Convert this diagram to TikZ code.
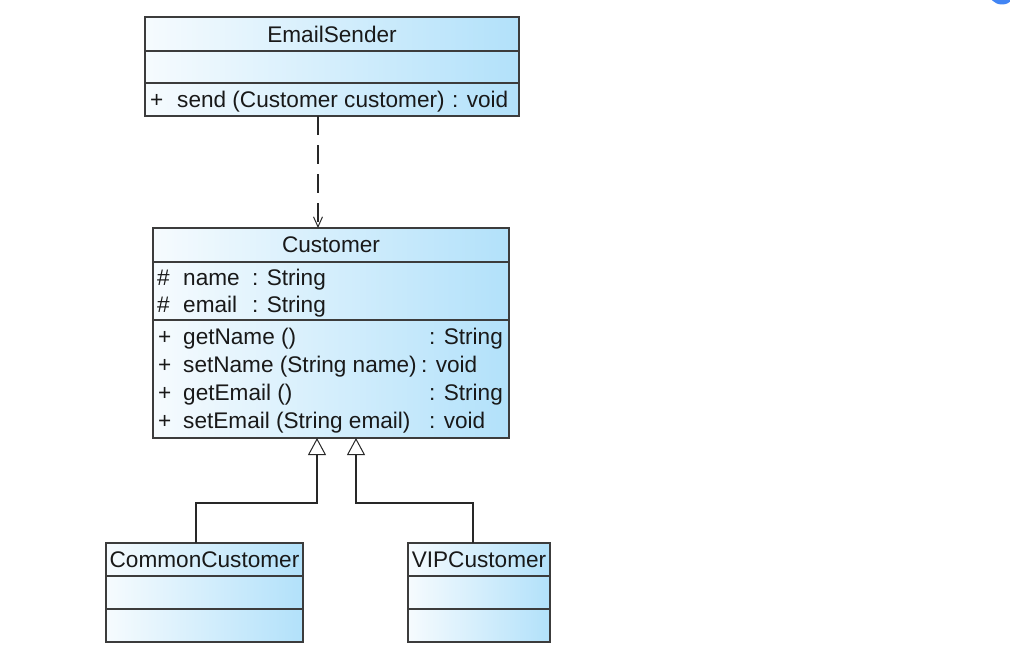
\documentclass[tikz,border=0pt]{standalone}
\usepackage{fontspec}
\setmainfont{Liberation Sans}
\usetikzlibrary{arrows.meta}
\definecolor{cblue}{RGB}{178,225,250}
\definecolor{cwhite}{RGB}{246,251,254}
\definecolor{bord}{RGB}{60,60,60}
\definecolor{dotblue}{RGB}{66,133,244}
\definecolor{lnk}{RGB}{40,40,40}
\begin{document}
\begin{tikzpicture}[x=1pt,y=-1pt,
  comp/.style={draw=bord, line width=1.1pt, left color=cwhite, right color=cblue, inner sep=0pt, outer sep=0pt, font=\fontsize{22.6}{26}\selectfont, text=black!90},
  txt/.style={anchor=base west, inner sep=0pt, font=\fontsize{22.6}{26}\selectfont, text=black!90},
  dep/.style={draw=lnk, line width=1.2pt, dash pattern=on 19pt off 10pt, -{Straight Barb[length=10pt,width=9pt,line width=1pt]}},
  gen/.style={draw=lnk, line width=1.1pt, -{Triangle[open,length=17pt,width=18pt,fill=white,line width=1pt]}}]
\useasboundingbox (0,0) rectangle (1010,661);
\fill[dotblue] (1002,-9.5) circle (14);
% EmailSender
\node[comp, minimum width=374pt, minimum height=34pt] (es1) at (332,34) {EmailSender};
\node[comp, minimum width=374pt, minimum height=32pt] (es2) at (332,67) {};
\node[comp, minimum width=374pt, minimum height=33pt] (es3) at (332,99.5) {};
\node[txt] (esm1) at (150,107) {+};
\node[txt] (esm2) at (177,107) {send (Customer customer)};
\node[txt] (esm3) at (452,107) {: void};
% Customer
\node[comp, minimum width=356pt, minimum height=34pt] (cu1) at (331,245) {Customer};
\node[comp, minimum width=356pt, minimum height=58pt] (cu2) at (331,291) {};
\node[comp, minimum width=356pt, minimum height=118pt] (cu3) at (331,379) {};
\node[txt] (a1h) at (157,285) {\#};
\node[txt] (a1n) at (183,285) {name};
\node[txt] (a1t) at (252,285) {: String};
\node[txt] (a2h) at (157,312.5) {\#};
\node[txt] (a2n) at (183,312.5) {email};
\node[txt] (a2t) at (252,312.5) {: String};
\node[txt] (m1h) at (158,344) {+};
\node[txt] (m1n) at (183,344) {getName ()};
\node[txt] (m1t) at (429,344) {: String};
\node[txt] (m2h) at (158,372) {+};
\node[txt] (m2n) at (183,372) {setName (String name)};
\node[txt] (m2t) at (421,372) {: void};
\node[txt] (m3h) at (158,400) {+};
\node[txt] (m3n) at (183,400) {getEmail ()};
\node[txt] (m3t) at (429,400) {: String};
\node[txt] (m4h) at (158,428) {+};
\node[txt] (m4n) at (183,428) {setEmail (String email)};
\node[txt] (m4t) at (429,428) {: void};
% CommonCustomer
\node[comp, minimum width=197pt, minimum height=33pt] (cc1) at (204.5,559.5) {CommonCustomer};
\node[comp, minimum width=197pt, minimum height=33pt] (cc2) at (204.5,592.5) {};
\node[comp, minimum width=197pt, minimum height=33pt] (cc3) at (204.5,625.5) {};
% VIPCustomer
\node[comp, minimum width=142pt, minimum height=33pt] (vc1) at (479,559.5) {VIPCustomer};
\node[comp, minimum width=142pt, minimum height=33pt] (vc2) at (479,592.5) {};
\node[comp, minimum width=142pt, minimum height=33pt] (vc3) at (479,625.5) {};
% connectors
\draw[dep] ([xshift=-14pt]es3.south) -- ([xshift=-13pt]cu1.north);
\draw[gen] ([xshift=-8.5pt]cc1.north) -- ++(0,-40) -| ([xshift=-14pt]cu3.south);
\draw[gen] ([xshift=-6pt]vc1.north) -- ++(0,-40) -| ([xshift=25pt]cu3.south);
\end{tikzpicture}
\end{document}
